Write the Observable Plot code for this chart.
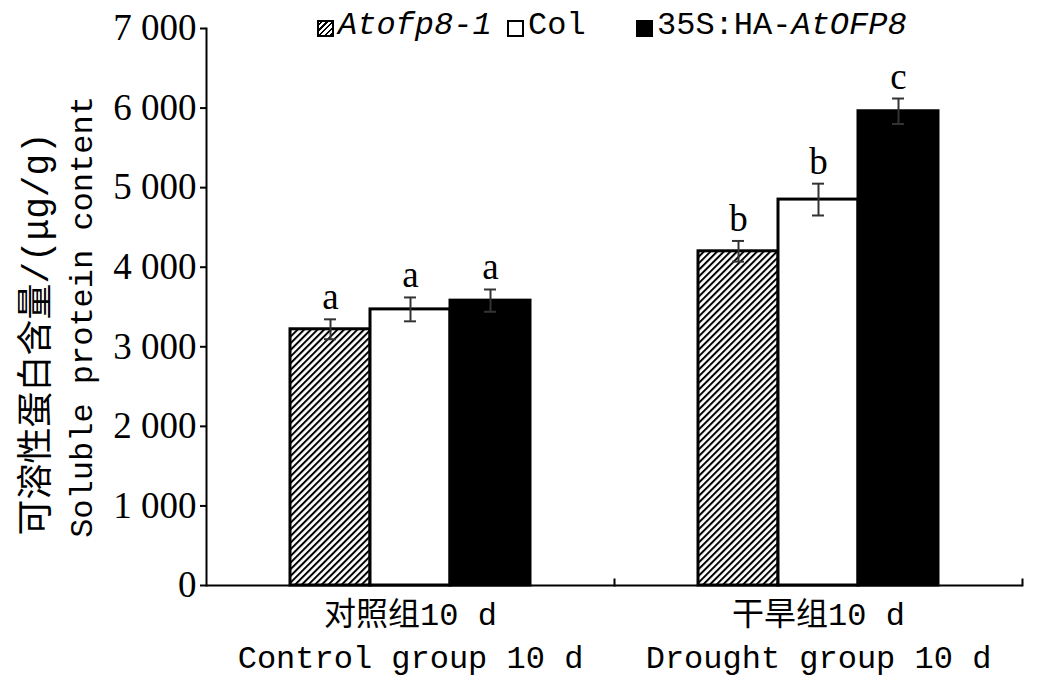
<!DOCTYPE html>
<html>
<head>
<meta charset="utf-8">
<script src="https://cdn.jsdelivr.net/npm/d3@7"></script>
<script src="https://cdn.jsdelivr.net/npm/@observablehq/plot@0.6"></script>
<style>
  html, body { margin: 0; padding: 0; background: white; }
  #wrap { position: relative; width: 1049px; height: 686px; }
  #legend { position: absolute; top: 0; left: 0; width: 1049px; height: 45px;
            font-family: "Liberation Mono", "Noto Sans CJK SC", monospace; font-size: 32px; color: black; }
  .item { position: absolute; top: 7px; display: flex; align-items: center; white-space: pre; }
  .sw { width: 13px; height: 13px; border: 2px solid black; margin-right: 4px; margin-top: 6px; box-sizing: content-box; }
  .hatch { background: repeating-linear-gradient(-45deg, black 0 1.5px, white 1.5px 4px); }
  .white { background: white; }
  .black { background: black; }
</style>
</head>
<body>
<div id="wrap">
  <div id="legend"></div>
</div>
<script>
// ---- data ----
const groupKeys = ["control", "drought"];
const groupLabels = ["对照组10 d\nControl group 10 d", "干旱组10 d\nDrought group 10 d"];
const genotypes = ["Atofp8-1", "Col", "35S:HA-AtOFP8"];
const controlMeans = [3220, 3470, 3580];
const controlErrors = [125, 150, 140];
const controlLetters = ["a", "a", "a"];
const droughtMeans = [4200, 4850, 5960];
const droughtErrors = [130, 200, 160];
const droughtLetters = ["b", "b", "c"];
const yTicks = [0, 1000, 2000, 3000, 4000, 5000, 6000, 7000];
const yTitleZh = "可溶性蛋白含量/(μg/g)";
const yTitleEn = "Soluble protein content";

// build table
const rows = [];
genotypes.forEach((g, i) => {
  rows.push({group: "control", genotype: g, mean: controlMeans[i], err: controlErrors[i], letter: controlLetters[i]});
  rows.push({group: "drought", genotype: g, mean: droughtMeans[i], err: droughtErrors[i], letter: droughtLetters[i]});
});
const groupRows = groupKeys.map((k, i) => ({group: k, label: groupLabels[i]}));

const fmt = d3.formatLocale({thousands: " ", grouping: [3], decimal: "."}).format(",");
const mono = "Liberation Mono, Noto Sans CJK SC, monospace";
const serif = "Liberation Serif, Noto Sans CJK SC, serif";

const chart = Plot.plot({
  width: 1049,
  height: 686,
  marginLeft: 205,
  marginRight: 27,
  marginTop: 28,
  marginBottom: 101,
  style: {background: "white", color: "black", fontFamily: serif, overflow: "visible"},
  fx: {domain: groupKeys, padding: 0, axis: null},
  x: {domain: genotypes, paddingInner: 0, paddingOuter: 1.05, axis: null},
  y: {domain: [0, 7000]},
  color: {type: "ordinal", domain: genotypes, range: ["url(#hatch)", "white", "black"]},
  marks: [
    Plot.barY(rows, {fx: "group", x: "genotype", y: "mean", fill: "genotype", stroke: "black", strokeWidth: 3}),
    Plot.ruleX(rows, {fx: "group", x: "genotype", y1: d => d.mean - d.err, y2: d => d.mean + d.err, stroke: "#333", strokeWidth: 2}),
    Plot.tickY(rows, {fx: "group", x: "genotype", y: d => d.mean + d.err, stroke: "#333", strokeWidth: 2, insetLeft: 34, insetRight: 34}),
    Plot.tickY(rows, {fx: "group", x: "genotype", y: d => d.mean - d.err, stroke: "#333", strokeWidth: 2, insetLeft: 34, insetRight: 34}),
    Plot.text(rows, {fx: "group", x: "genotype", y: d => d.mean + d.err, text: "letter", lineAnchor: "bottom", dy: -10, fontSize: 37, fontFamily: serif}),
    Plot.ruleY([0], {stroke: "black", strokeWidth: 2}),
    Plot.frame({anchor: "left", facetAnchor: "left", stroke: "black", strokeWidth: 2}),
    Plot.frame({anchor: "right", insetTop: 551, stroke: "black", strokeWidth: 2}),
    Plot.axisY({ticks: yTicks, tickFormat: d => fmt(d), tickSize: 6, tickPadding: 4, fontSize: 37, fontFamily: serif, label: null, strokeWidth: 2}),
    Plot.text(groupRows, {fx: "group", text: "label", frameAnchor: "bottom", lineAnchor: "top", dy: 9, lineHeight: 1.35, fontSize: 32, fontFamily: mono}),
    Plot.text([yTitleZh], {text: d => d, frameAnchor: "left", facetAnchor: "left", textAnchor: "middle", rotate: -90, dx: -170, dy: 27, fontSize: 36, fontFamily: mono}),
    Plot.text([yTitleEn], {text: d => d, frameAnchor: "left", facetAnchor: "left", textAnchor: "middle", rotate: -90, dx: -125, dy: 10, fontSize: 32, fontFamily: mono})
  ]
});

d3.select(chart).insert("defs", ":first-child").html(
  `<pattern id="hatch" patternUnits="userSpaceOnUse" width="4.7" height="4.7" patternTransform="rotate(45)">
     <rect width="4.7" height="4.7" fill="white"></rect>
     <line x1="1" y1="0" x2="1" y2="4.7" stroke="black" stroke-width="2"></line>
   </pattern>`
);

const wrap = document.getElementById("wrap");
wrap.insertBefore(chart, wrap.firstChild);

// legend
const legendItems = [
  {cls: "hatch", parts: [["Atofp8-1", true]], left: 317},
  {cls: "white", parts: [["Col", false]], left: 507},
  {cls: "black", parts: [["35S:HA-", false], ["AtOFP8", true]], left: 636}
];
const legend = d3.select("#legend");
legendItems.forEach((it, i) => {
  const div = legend.append("div").attr("class", "item").style("left", it.left + "px");
  div.append("span").attr("class", "sw " + it.cls);
  it.parts.forEach(([t, ital]) => div.append("span").style("font-style", ital ? "italic" : "normal").text(t));
});
</script>
</body>
</html>
